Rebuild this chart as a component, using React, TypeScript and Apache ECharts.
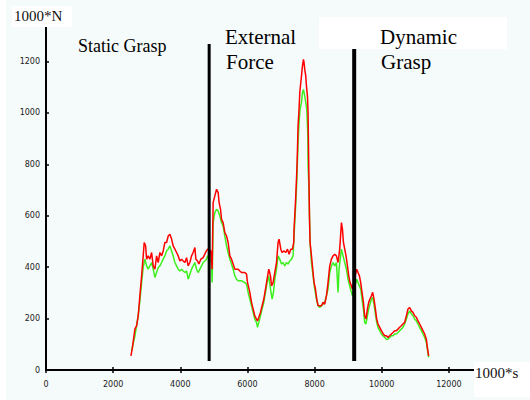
import React, { useEffect, useRef } from "react";
import * as echarts from "echarts";

const redTime = [2530,2568,2649,2699,2747,2797,2848,2896,2925,2967,2997,3044,3095,3146,3193,3244,3294,3342,3393,3443,3491,3541,3592,3640,3690,3741,3788,3839,3890,3937,3988,4038,4086,4137,4187,4235,4285,4336,4384,4434,4464,4515,4553,4613,4681,4753,4812,4910,4949,4979,5029,5080,5128,5157,5199,5229,5276,5327,5378,5425,5476,5526,5574,5625,5723,5773,5824,5922,5973,6003,6071,6122,6169,6220,6270,6300,6339,6389,6437,6488,6538,6586,6636,6687,6717,6764,6815,6866,6913,6943,6994,7032,7092,7142,7193,7241,7291,7342,7380,7389,7431,7470,7491,7508,7538,7559,7589,7610,7639,7669,7687,7708,7738,7758,7788,7806,7827,7848,7866,7907,7946,7985,8026,8065,8104,8205,8252,8303,8354,8401,8452,8502,8550,8601,8651,8699,8749,8800,8830,8860,8898,8937,8979,9017,9056,9098,9127,9255,9294,9336,9374,9413,9455,9493,9532,9574,9612,9651,9693,9731,9770,9812,9851,9889,9940,9990,10038,10089,10139,10187,10237,10288,10336,10386,10437,10484,10535,10585,10633,10684,10735,10782,10833,10883,10931,10981,11032,11080,11130,11181,11228,11279,11329,11359,11398];
const redForce = [55,82,160,172,211,289,366,444,496,483,431,444,431,457,405,392,444,418,457,444,463,496,496,521,528,509,483,470,457,444,424,431,424,418,437,405,418,444,457,476,431,424,412,431,437,457,470,463,392,651,677,703,690,651,625,586,573,534,521,496,444,431,412,392,392,385,379,379,373,340,302,263,237,211,198,191,205,224,250,276,315,353,392,366,327,340,379,418,496,509,470,457,463,457,470,450,470,470,496,548,651,770,858,949,1014,1078,1117,1143,1182,1208,1195,1169,1143,1104,1065,1000,793,599,496,444,392,340,315,276,250,250,263,256,289,340,405,431,444,450,444,418,470,573,548,496,470,444,405,366,340,327,315,392,379,366,340,302,263,211,198,237,263,276,289,302,276,237,198,179,166,153,142,133,133,127,133,140,146,153,153,159,166,172,179,185,211,237,243,230,224,211,205,191,179,166,153,140,120,88,55];

const greenTime = [2550,2649,2747,2797,2848,2896,2946,2997,3044,3095,3146,3193,3244,3294,3342,3393,3443,3491,3541,3592,3640,3690,3741,3788,3839,3890,3937,3988,4038,4086,4137,4187,4235,4285,4336,4384,4434,4485,4532,4583,4634,4681,4732,4782,4812,4931,4949,4979,5029,5080,5128,5178,5229,5276,5327,5378,5425,5476,5526,5574,5625,5675,5723,5824,5922,5973,6020,6071,6122,6169,6220,6270,6300,6339,6389,6437,6488,6538,6586,6636,6687,6735,6776,6815,6866,6913,6964,7014,7062,7113,7163,7211,7261,7312,7360,7389,7431,7470,7508,7538,7568,7610,7639,7669,7708,7738,7767,7797,7806,7827,7848,7866,7907,7955,8005,8056,8104,8154,8205,8252,8303,8354,8401,8452,8502,8550,8601,8651,8699,8729,8800,8848,8898,8949,8996,9047,9098,9127,9255,9294,9336,9374,9413,9455,9493,9532,9574,9612,9651,9693,9731,9770,9812,9851,9889,9940,9990,10038,10089,10139,10187,10237,10288,10336,10386,10437,10484,10535,10585,10633,10684,10735,10782,10833,10883,10931,10981,11032,11080,11130,11181,11228,11279,11329,11359,11398];
const greenForce = [75,133,211,270,340,400,431,405,392,405,418,392,360,379,398,405,418,431,444,463,470,483,463,444,418,405,392,385,392,385,379,385,353,372,392,405,418,392,379,392,405,418,424,431,444,418,340,573,612,625,618,599,573,560,521,483,457,431,412,392,366,353,347,347,340,334,302,276,250,224,198,185,166,185,211,237,263,302,340,366,315,276,302,353,392,444,431,412,418,405,418,412,424,431,444,521,625,730,884,962,1014,1040,1078,1091,1065,1040,1014,923,793,729,599,496,418,366,315,276,250,243,250,256,263,289,315,379,405,418,405,418,302,392,470,444,418,392,353,327,302,289,353,340,327,315,276,237,185,179,211,237,256,276,282,256,218,185,166,153,140,133,127,120,120,127,133,133,140,140,146,153,159,166,179,198,218,230,218,211,198,191,179,166,153,140,127,107,82,49];

const phaseTime = [4860, 9180];
const phaseTop = [1268, 1249];
const phaseBottom = 35;
const phaseWidth = [3, 4];

const xTicks = [0, 2000, 4000, 6000, 8000, 10000, 12000];
const yTicks = [0, 200, 400, 600, 800, 1000, 1200];

const pairs = (xs: number[], ys: number[]) => xs.map((x, i) => [x, ys[i]]);

export default function App() {
  const ref = useRef<HTMLDivElement>(null);
  useEffect(() => {
    const chart = echarts.init(ref.current!, undefined, { renderer: "svg" });
    const tickFont = { fontSize: 8, fontFamily: "DejaVu Sans", color: "#222" };
    const serif = "Liberation Serif";
    chart.setOption({
      animation: false,
      backgroundColor: "#f5fafa",
      grid: { left: 46, top: 10, width: 470, height: 360 },
      xAxis: [
        {
          type: "value", min: 0, max: 14000, interval: 2000, position: "bottom",
          axisLine: { lineStyle: { color: "#000", width: 2 } },
          axisTick: { inside: true, length: 3, lineStyle: { color: "#000", width: 1.5 } },
          axisLabel: { ...tickFont, margin: 10, showMaxLabel: false,
            formatter: (v: number) => (xTicks.includes(v) ? String(v) : "") },
          splitLine: { show: false },
        },
        {
          type: "value", min: 0, max: 14000, interval: 2000, position: "top",
          axisLine: { lineStyle: { color: "#000", width: 2 } },
          axisTick: { inside: true, length: 3, lineStyle: { color: "#000", width: 1.5 } },
          axisLabel: { show: false },
          splitLine: { show: false },
        },
      ],
      yAxis: [
        {
          type: "value", min: 0, max: 1400, interval: 200, position: "left",
          axisLine: { show: true, lineStyle: { color: "#000", width: 2 } },
          axisTick: { show: true, inside: true, length: 3, lineStyle: { color: "#000", width: 1.5 } },
          axisLabel: { ...tickFont, margin: 6, showMaxLabel: false,
            formatter: (v: number) => (yTicks.includes(v) ? String(v) : "") },
          splitLine: { show: false },
        },
        {
          type: "value", min: 0, max: 1400, interval: 200, position: "right",
          axisLine: { show: true, lineStyle: { color: "#000", width: 2 } },
          axisTick: { show: false },
          axisLabel: { show: false },
          splitLine: { show: false },
        },
      ],
      series: [
        {
          type: "line", name: "green", data: pairs(greenTime, greenForce),
          showSymbol: false, lineStyle: { color: "#3cf01e", width: 1.5 }, z: 2,
        },
        {
          type: "line", name: "red", data: pairs(redTime, redForce),
          showSymbol: false, lineStyle: { color: "#ff0000", width: 1.5 }, z: 3,
        },
        ...phaseTime.map((t, i) => ({
          type: "line",
          name: "phase" + i,
          data: [[t, phaseBottom], [t, phaseTop[i]]],
          showSymbol: false,
          lineStyle: { color: "#000", width: phaseWidth[i] },
          z: 4,
        })),
      ],
      graphic: [
        { type: "rect", z: 100, shape: { x: 0, y: 0, width: 6, height: 400 }, style: { fill: "#fff" } },
        { type: "rect", z: 100, shape: { x: 12, y: 6, width: 60, height: 21 }, style: { fill: "#fff" } },
        { type: "text", z: 101, style: { text: "1000*N", x: 14, y: 16, font: `15px "${serif}"`, fill: "#111", textVerticalAlign: "middle" } },
        { type: "rect", z: 100, shape: { x: 474, y: 362, width: 56, height: 35 }, style: { fill: "#fff" } },
        { type: "text", z: 101, style: { text: "1000*s", x: 475, y: 373, font: `15px "${serif}"`, fill: "#111", textVerticalAlign: "middle" } },
        { type: "rect", z: 100, shape: { x: 319, y: 17, width: 188, height: 32 }, style: { fill: "#fff" } },
        { type: "text", z: 101, style: { text: "Static Grasp", x: 78, y: 46, font: `18px "${serif}"`, fill: "#000", textVerticalAlign: "middle" } },
        { type: "text", z: 101, style: { text: "External", x: 225, y: 37, font: `21px "${serif}"`, fill: "#000", textVerticalAlign: "middle" } },
        { type: "text", z: 101, style: { text: "Force", x: 226, y: 62, font: `21px "${serif}"`, fill: "#000", textVerticalAlign: "middle" } },
        { type: "text", z: 101, style: { text: "Dynamic", x: 380, y: 37, font: `21px "${serif}"`, fill: "#000", textVerticalAlign: "middle" } },
        { type: "text", z: 101, style: { text: "Grasp", x: 381, y: 62, font: `21px "${serif}"`, fill: "#000", textVerticalAlign: "middle" } },
      ],
    });
    return () => chart.dispose();
  }, []);
  return <div ref={ref} style={{ position: "absolute", left: 0, top: 0, width: 530, height: 400 }} />;
}
